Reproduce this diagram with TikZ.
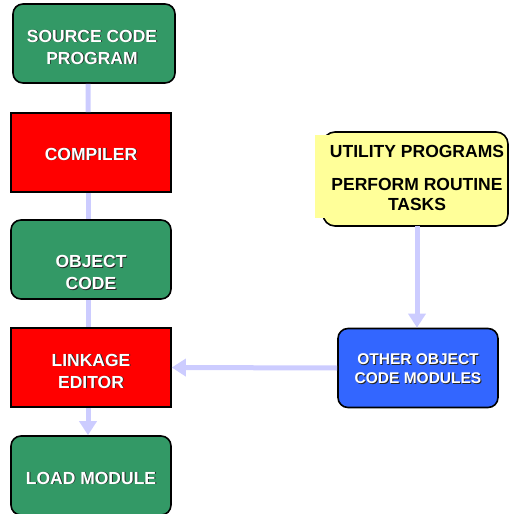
\documentclass[tikz,border=0pt]{standalone}
\usepackage{fontspec}
\setmainfont{Liberation Sans}
\usetikzlibrary{arrows.meta}
\definecolor{boxgreen}{RGB}{51,153,102}
\definecolor{boxred}{RGB}{255,0,0}
\definecolor{boxblue}{RGB}{51,102,255}
\definecolor{boxyellow}{RGB}{255,255,153}
\definecolor{conn}{RGB}{204,204,255}
\newcommand\shd[1]{\makebox[0pt][l]{\kern0.9bp\raisebox{-0.9bp}{\textcolor{black!85}{#1}}}#1}
\tikzset{
  box/.style={draw=black, line width=1.6bp, minimum width=160bp, minimum height=79bp, inner sep=0pt},
  roundbox/.style={box, rounded corners=10bp},
  txt/.style={inner sep=0pt, align=center, text=white, font=\fontsize{17.5bp}{22bp}\selectfont\bfseries},
  link/.style={draw=conn, line width=5bp},
  arrowlink/.style={link, -{Triangle[width=17bp,length=14bp]}},
}
\begin{document}
\begin{tikzpicture}[x=1bp,y=1bp]
\useasboundingbox (0,0) rectangle (509,-514);
% utility shape
\begin{scope}
\clip (0,0) rectangle (509,-514);
\filldraw[fill=boxyellow, draw=black, line width=1.6bp, rounded corners=12bp] (323,-132) rectangle (508,-226);
\fill[boxyellow] (315,-135) rectangle (336,-218);
\end{scope}
\node[align=center, font=\fontsize{17.5bp}{20bp}\selectfont\bfseries, text=black] (util) at (417,-178)
  {UTILITY PROGRAMS\\[13bp]PERFORM ROUTINE\\TASKS};
\coordinate (utilbot) at (417,-226);
% left column
\node[roundbox, fill=boxgreen, minimum width=162bp] (src) at (94,-43.5) {};
\node[txt] (srcT) at ([xshift=-2bp,yshift=-4bp]src.center) {\shd{SOURCE CODE}\\\shd{PROGRAM}};
\node[box, fill=boxred] (comp) at (91,-152.5) {};
\node[txt] (compT) at ([yshift=-2bp]comp.center) {\shd{COMPILER}};
\node[roundbox, fill=boxgreen] (obj) at (91,-259.5) {};
\node[txt] (objT) at ([yshift=-13.5bp]obj.center) {\shd{OBJECT}\\\shd{CODE}};
\node[box, fill=boxred] (link) at (91,-367.5) {};
\node[txt] (linkT) at ([yshift=-4bp]link.center) {\shd{LINKAGE}\\\shd{EDITOR}};
\node[roundbox, fill=boxgreen] (load) at (91,-475.5) {};
\node[txt] (loadT) at ([yshift=-3bp]load.center) {\shd{LOAD MODULE}};
\node[roundbox, fill=boxblue] (other) at (418,-368) {};
\node[txt, font=\fontsize{15.5bp}{19bp}\selectfont\bfseries] (otherT) at ([yshift=-1.5bp]other.center) {\shd{OTHER OBJECT}\\\shd{CODE MODULES}};
% connectors
\draw[link] ([xshift=-6bp]src.south) -- ([xshift=-3bp]comp.north);
\draw[link] ([xshift=-3bp]comp.south) -- ([xshift=-3bp]obj.north);
\draw[link] ([xshift=-3bp]obj.south) -- ([xshift=-3bp]link.north);
\draw[arrowlink] ([xshift=-3bp]link.south) -- ([xshift=-3bp]load.north);
\draw[arrowlink] (utilbot) -- (utilbot |- other.north);
\draw[arrowlink] (other.west) -- (link.east);
\end{tikzpicture}
\end{document}
